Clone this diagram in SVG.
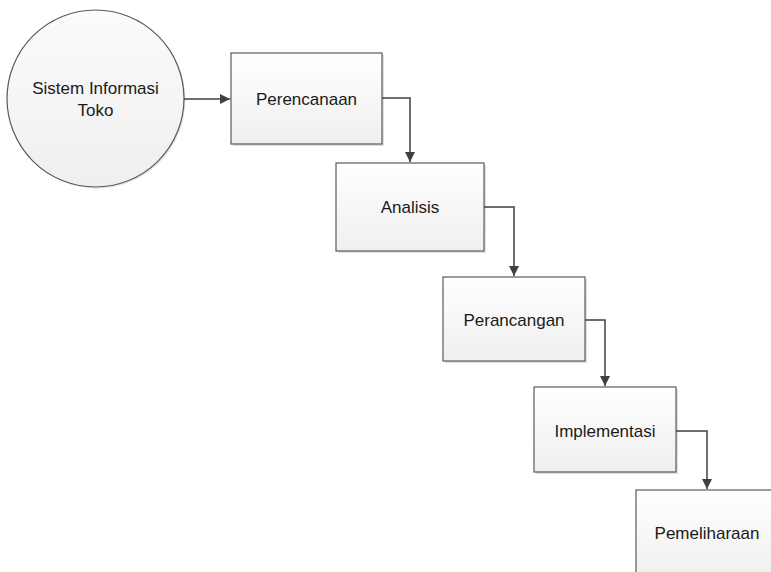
<svg xmlns="http://www.w3.org/2000/svg" width="771" height="572" viewBox="0 0 771 572">
<defs>
<linearGradient id="g" x1="0" y1="0" x2="0" y2="1">
<stop offset="0" stop-color="#ffffff"/>
<stop offset="1" stop-color="#efefef"/>
</linearGradient>
<linearGradient id="gc" x1="0" y1="0" x2="0" y2="1">
<stop offset="0" stop-color="#fbfbfb"/>
<stop offset="1" stop-color="#efefef"/>
</linearGradient>
<marker id="ah" viewBox="0 0 10 10" refX="10" refY="5" markerWidth="10" markerHeight="10" markerUnits="userSpaceOnUse" orient="auto">
<path d="M0,0 L10,5 L0,10 Z" fill="#404040"/>
</marker>
</defs>
<style>
.box{fill:url(#g);stroke:#5a5a5a;stroke-width:1.2}
.sh{fill:#e0e0e0}
.t{font-family:"Liberation Sans",Arial,sans-serif;font-size:17px;fill:#1a1a1a;text-anchor:middle;dominant-baseline:central}
.c{fill:none;stroke:#404040;stroke-width:1.5;marker-end:url(#ah)}
</style>
<rect width="771" height="572" fill="#ffffff"/>
<g id="node-sistem">
<circle cx="97" cy="100" r="88.5" fill="#e6e6e6"/>
<circle cx="95.5" cy="98.5" r="88.5" fill="url(#gc)" stroke="#5a5a5a" stroke-width="1.2"/>
<text class="t" x="95.5" y="88">Sistem Informasi</text>
<text class="t" x="95.5" y="110">Toko</text>
</g>
<g id="node-perencanaan">
<rect class="sh" x="233" y="55" width="151" height="91"/>
<rect class="box" x="231" y="53" width="151" height="91"/>
<text class="t" x="306.5" y="99">Perencanaan</text>
</g>
<g id="node-analisis">
<rect class="sh" x="338" y="165" width="148" height="88"/>
<rect class="box" x="336" y="163" width="148" height="88"/>
<text class="t" x="410" y="207">Analisis</text>
</g>
<g id="node-perancangan">
<rect class="sh" x="445" y="279" width="142" height="84"/>
<rect class="box" x="443" y="277" width="142" height="84"/>
<text class="t" x="514" y="320">Perancangan</text>
</g>
<g id="node-implementasi">
<rect class="sh" x="536" y="389" width="142" height="85"/>
<rect class="box" x="534" y="387" width="142" height="85"/>
<text class="t" x="605" y="431">Implementasi</text>
</g>
<g id="node-pemeliharaan">
<rect class="sh" x="638" y="492" width="150" height="90"/>
<rect class="box" x="636" y="490" width="150" height="90"/>
<text class="t" x="707" y="533">Pemeliharaan</text>
</g>
<g id="connectors">
<path class="c" d="M184,99 H230"/>
<path class="c" d="M382,98 H410 V162"/>
<path class="c" d="M484,207 H514 V276"/>
<path class="c" d="M585,320 H605 V386"/>
<path class="c" d="M676,431 H707 V489"/>
</g>
</svg>
